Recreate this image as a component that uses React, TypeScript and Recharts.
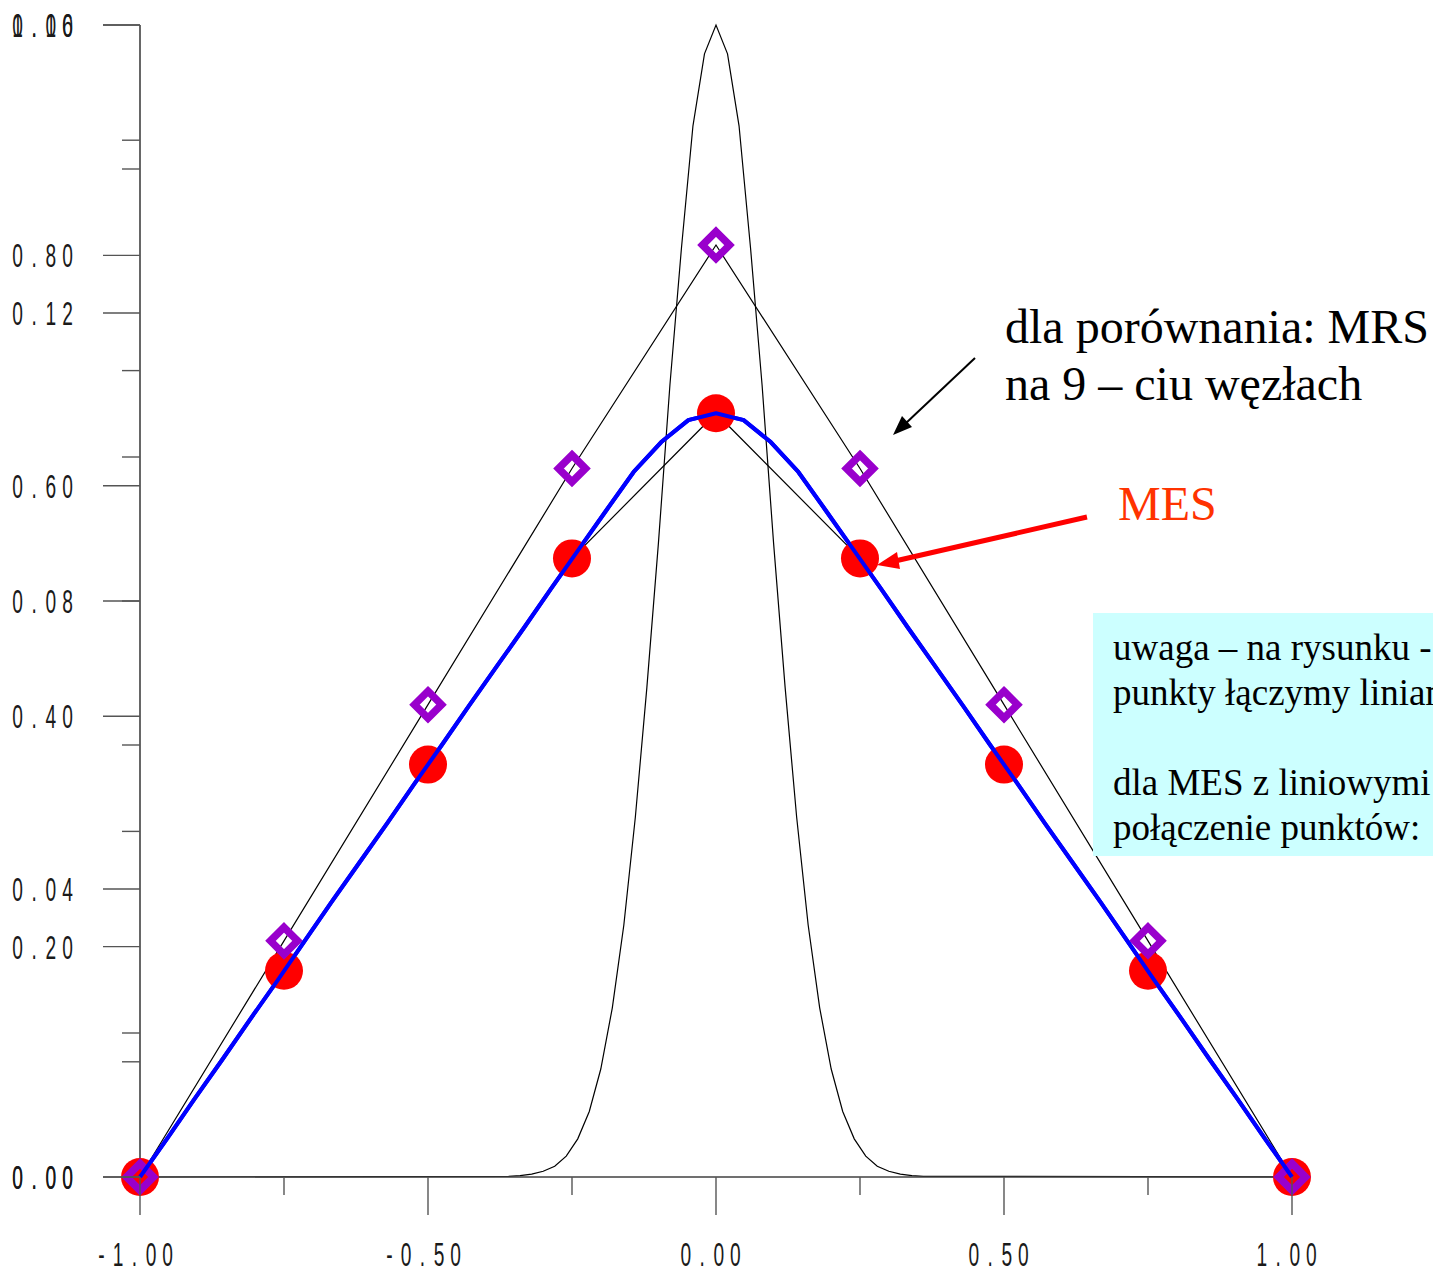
import React from 'react';
import { LineChart, Line, XAxis, YAxis } from 'recharts';

// wezly siatki (9 wezlow) i wyniki: MRS (romby) i MES (kola)
const nodeX = [-1, -0.75, -0.5, -0.25, 0, 0.25, 0.5, 0.75, 1];
const mrsY = [0, 0.205, 0.41, 0.615, 0.809, 0.615, 0.41, 0.205, 0];
const mesY = [0, 0.179, 0.358, 0.537, 0.663, 0.537, 0.358, 0.179, 0];

// rozwiazanie dokladne (niebieska linia)
const exactX = [
  -1, -0.952, -0.905, -0.857, -0.81, -0.762, -0.714, -0.667, -0.619, -0.571, -0.524,
  -0.476, -0.429, -0.381, -0.333, -0.286, -0.238, -0.19, -0.143, -0.095, -0.048, 0,
  0.048, 0.095, 0.143, 0.19, 0.238, 0.286, 0.333, 0.381, 0.429, 0.476,
  0.524, 0.571, 0.619, 0.667, 0.714, 0.762, 0.81, 0.857, 0.905, 0.952, 1,
];
const exactY = [
  0, 0.034, 0.068, 0.102, 0.136, 0.17, 0.205, 0.239, 0.273, 0.307, 0.341,
  0.375, 0.409, 0.443, 0.477, 0.511, 0.545, 0.579, 0.612, 0.638, 0.657, 0.663,
  0.657, 0.638, 0.612, 0.579, 0.545, 0.511, 0.477, 0.443, 0.409, 0.375,
  0.341, 0.307, 0.273, 0.239, 0.205, 0.17, 0.136, 0.102, 0.068, 0.034, 0,
];

// prawa strona (waski pik), skala 0 - 0.16
const sourceX = [
  -1, -0.36, -0.34, -0.32, -0.3, -0.28, -0.26, -0.24, -0.22, -0.2, -0.18, -0.16, -0.14, -0.12,
  -0.1, -0.08, -0.06, -0.04, -0.02, 0, 0.02, 0.04, 0.06, 0.08, 0.1, 0.12, 0.14, 0.16, 0.18,
  0.2, 0.22, 0.24, 0.26, 0.28, 0.3, 0.32, 0.34, 0.36, 1,
];
const sourceY = [
  0, 0.0001, 0.0002, 0.0004, 0.0008, 0.0015, 0.0029, 0.0053, 0.0091, 0.015, 0.0235, 0.035,
  0.05, 0.068, 0.088, 0.11, 0.129, 0.146, 0.156, 0.16, 0.156, 0.146, 0.129, 0.11, 0.088,
  0.068, 0.05, 0.035, 0.0235, 0.015, 0.0091, 0.0053, 0.0029, 0.0015, 0.0008, 0.0004,
  0.0002, 0.0001, 0,
];

const xTicks = [-1, -0.75, -0.5, -0.25, 0, 0.25, 0.5, 0.75, 1];
const yTicksA = [0, 0.1, 0.2, 0.3, 0.4, 0.5, 0.6, 0.7, 0.8, 0.9, 1.0];
const yTicksB = [0, 0.02, 0.04, 0.06, 0.08, 0.1, 0.12, 0.14, 0.16];

const zip = (xs: number[], ys: number[]) => xs.map((x, i) => ({ x, y: ys[i] }));
const mrsData = zip(nodeX, mrsY);
const mesData = zip(nodeX, mesY);
const exactData = zip(exactX, exactY);
const sourceData = zip(sourceX, sourceY);

const TICK_FONT = "'Liberation Sans', Arial, sans-serif";
const SERIF = "'Liberation Serif', 'Times New Roman', serif";

const spacedText = (label: string, cx: number, baseline: number, pitch: number) => {
  const n = label.length;
  return label.split('').map((c, i) => (
    <text
      key={i}
      transform={`translate(${cx + (i - (n - 1) / 2) * pitch}, ${baseline}) scale(0.58, 1)`}
      textAnchor="middle"
      fontFamily={TICK_FONT}
      fontSize={33}
      fill="#1a1a1a"
    >
      {c}
    </text>
  ));
};

const XTick = (props: any) => {
  const { x, y, payload } = props;
  const v = payload.value as number;
  const major = Math.abs(v * 2 - Math.round(v * 2)) < 1e-6;
  return (
    <g>
      <line x1={x} x2={x} y1={y} y2={y + (major ? 38 : 18)} stroke="#555" strokeWidth={1.4} />
      {major && spacedText(v.toFixed(2), x - 5.5, y + 89, 16.5)}
    </g>
  );
};

const makeYTick = (step: number) => (props: any) => {
  const { x, y, payload } = props;
  const v = payload.value as number;
  const k = Math.round(v / step);
  const major = k % 2 === 0;
  return (
    <g>
      <line x1={x - (major ? 37 : 18)} x2={x} y1={y} y2={y} stroke="#555" strokeWidth={1.4} />
      {major && spacedText(v.toFixed(2), x - 97.5, y + 12, 16.7)}
    </g>
  );
};

const YTickA = makeYTick(0.1);
const YTickB = makeYTick(0.02);

const circleDot = (props: any) => {
  const { cx, cy, index } = props;
  return <circle key={`c${index}`} cx={cx} cy={cy} r={19} fill="#FF0000" />;
};

const diamondDot = (props: any) => {
  const { cx, cy, index } = props;
  const d = 13.5;
  return (
    <path
      key={`d${index}`}
      d={`M${cx},${cy - d} L${cx + d},${cy} L${cx},${cy + d} L${cx - d},${cy} Z`}
      fill="none"
      stroke="#9900CC"
      strokeWidth={7.5}
    />
  );
};

// niebieska linia jeszcze raz, w warstwie punktow, zeby lezala nad kolami
const exactOverlay = (props: any) => {
  const { index, points } = props;
  if (index !== 0 || !Array.isArray(points)) return <g key={`e${index}`} />;
  return (
    <polyline
      key="e0"
      points={points.map((p: any) => `${p.x},${p.y}`).join(' ')}
      fill="none"
      stroke="#0000FF"
      strokeWidth={4}
      strokeLinejoin="round"
    />
  );
};

export default function App() {
  return (
    <div style={{ position: 'absolute', left: 0, top: 0, width: 1433, height: 1273, overflow: 'hidden', background: '#fff' }}>
      <LineChart width={1433} height={1273} margin={{ top: 25, right: 141, bottom: 0, left: 0 }}>
        <XAxis
          type="number"
          dataKey="x"
          domain={[-1, 1]}
          ticks={xTicks}
          interval={0}
          height={96}
          tickSize={0}
          tickMargin={0}
          tickLine={false}
          axisLine={{ stroke: '#404040', strokeWidth: 1.6 }}
          tick={<XTick />}
        />
        <YAxis
          yAxisId="a"
          type="number"
          domain={[0, 1]}
          ticks={yTicksA}
          interval={0}
          width={140}
          tickSize={0}
          tickMargin={0}
          tickLine={false}
          axisLine={{ stroke: '#404040', strokeWidth: 1.6 }}
          tick={<YTickA />}
        />
        <YAxis
          yAxisId="b"
          type="number"
          domain={[0, 0.16]}
          ticks={yTicksB}
          interval={0}
          mirror
          tickSize={0}
          tickMargin={0}
          tickLine={false}
          axisLine={false}
          tick={<YTickB />}
        />
        <Line yAxisId="b" data={sourceData} dataKey="y" type="linear" stroke="#000" strokeWidth={1.2} dot={false} isAnimationActive={false} />
        <Line yAxisId="a" data={mrsData} dataKey="y" type="linear" stroke="#000" strokeWidth={1.2} dot={false} isAnimationActive={false} />
        <Line yAxisId="a" data={mesData} dataKey="y" type="linear" stroke="#000" strokeWidth={1.2} dot={false} isAnimationActive={false} />
        <Line yAxisId="a" data={mesData} dataKey="y" type="linear" stroke="none" dot={circleDot} activeDot={false} isAnimationActive={false} />
        <Line yAxisId="a" data={mrsData} dataKey="y" type="linear" stroke="none" dot={diamondDot} activeDot={false} isAnimationActive={false} />
        <Line yAxisId="a" data={exactData} dataKey="y" type="linear" stroke="#0000FF" strokeWidth={4} dot={exactOverlay} activeDot={false} isAnimationActive={false} />
      </LineChart>

      <svg width={1433} height={1273} style={{ position: 'absolute', left: 0, top: 0, pointerEvents: 'none' }}>
        <line x1={975} y1={358} x2={905} y2={424} stroke="#000" strokeWidth={2} />
        <path d="M893,435 L902,416 L912,427 Z" fill="#000" />
        <text x={1005} y={343} fontFamily={SERIF} fontSize={48} fill="#000">dla porównania: MRS</text>
        <text x={1005} y={400} fontFamily={SERIF} fontSize={48} fill="#000">na 9 – ciu węzłach</text>

        <line x1={1087} y1={517} x2={895} y2={561} stroke="#FF0000" strokeWidth={5} />
        <path d="M877,565 L897,552 L900,569 Z" fill="#FF0000" />
        <text x={1118} y={520} fontFamily={SERIF} fontSize={48} fill="#FF3300">MES</text>

        <rect x={1093} y={613} width={360} height={243} fill="#CCFFFF" />
        <text fontFamily={SERIF} fontSize={37} fill="#000">
          <tspan x={1113} y={660}>uwaga – na rysunku -</tspan>
          <tspan x={1113} y={705}>punkty łączymy liniami</tspan>
          <tspan x={1113} y={795}>dla MES z liniowymi</tspan>
          <tspan x={1113} y={840}>połączenie punktów:</tspan>
        </text>
      </svg>
    </div>
  );
}
